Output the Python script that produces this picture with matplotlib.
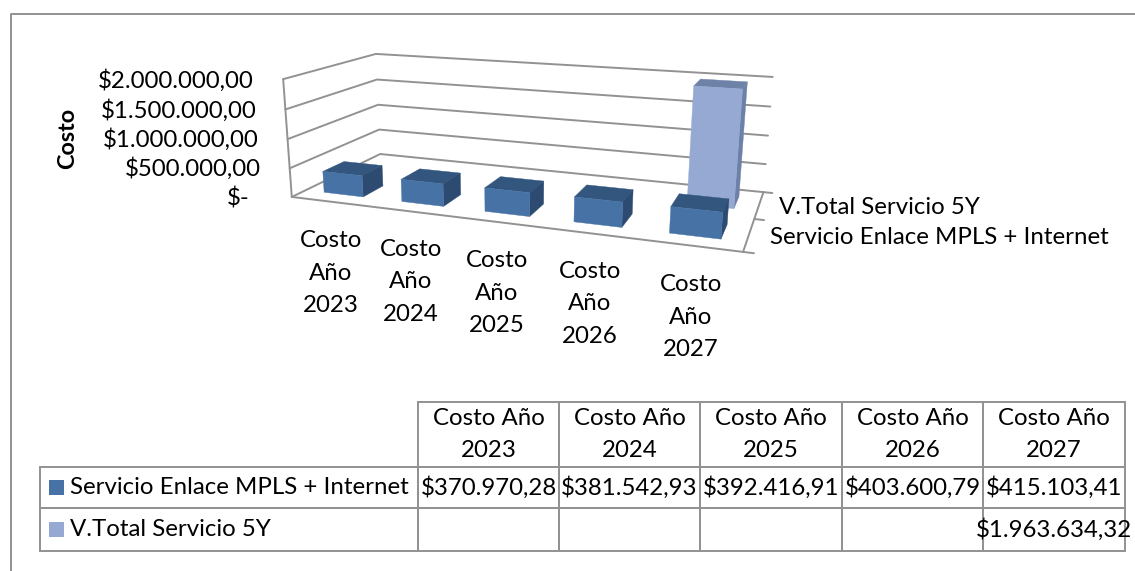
import numpy as np
import matplotlib
matplotlib.use("Agg")
import matplotlib.pyplot as plt
from matplotlib.lines import Line2D
from matplotlib.patches import Rectangle

plt.rcParams["font.family"] = ["Lato", "DejaVu Sans"]

W, H = 1135, 571

# data
years = ["2023", "2024", "2025", "2026", "2027"]
enlace = [370970.28, 381542.93, 392416.91, 403600.79, 415103.41]
total = [None, None, None, None, 1963634.32]
series_names = ["Servicio Enlace MPLS + Internet", "V.Total Servicio 5Y"]
z_ticks = [0, 500000, 1000000, 1500000, 2000000]

GRID = "#929292"
LW = 1.4
BLUE = ["#4672a6", "#33567f", "#2d4a70"]    # front, top, side
LIGHT = ["#95a9d2", "#6e82a8", "#6c80a8"]
FS = 17.3


def money(v):
    if v == 0:
        return "$-"
    return "$" + f"{v:,.2f}".replace(",", "_").replace(".", ",").replace("_", ".")


def fit_camera():
    # frame corners (category, series, cost) -> pixel on the canvas, solved as a DLT
    world = [(0, 0, 0), (0, 2, 0), (0, 0, 2e6), (0, 2, 2e6),
             (5, 0, 0), (5, 2, 0), (5, 2, 2e6)]
    pix = [(292, 197), (380, 154), (283, 79), (376, 54),
           (743, 252), (763.5, 192), (772.7, 77)]
    A, b = [], []
    for (x, y, z), (u, v) in zip(world, pix):
        z = z / 2e6
        v = H - v
        A.append([x, y, z, 1, 0, 0, 0, 0, -u*x, -u*y, -u*z])
        A.append([0, 0, 0, 0, x, y, z, 1, -v*x, -v*y, -v*z])
        b += [u, v]
    p = np.linalg.lstsq(np.array(A, float), np.array(b, float), rcond=None)[0]
    P = np.append(p, 1.0).reshape(3, 4)
    P[:, 2] /= 2e6
    return P


P = fit_camera()

fig = plt.figure(figsize=(W/100, H/100), dpi=100)
bg = fig.add_axes([0, 0, 1, 1])
bg.set_xlim(0, W)
bg.set_ylim(H, 0)
bg.axis("off")

ax = fig.add_axes([0, 0, 1, 1], projection="3d", computed_zorder=False)
ax.set_axis_off()
ax.patch.set_visible(False)


def camera():
    # depth row stays negative, Line3D drops points at or past the camera plane
    R = ax.transData.inverted().get_matrix() @ P
    return np.vstack([R[0], R[1], [0, 1, 0, -3], R[2]])


ax.get_proj = camera


def wire(xs, ys, zs):
    ax.plot(xs, ys, zs, color=GRID, lw=LW, clip_on=False, zorder=1,
            solid_capstyle="round")


# walls and floor
for t in z_ticks:
    wire([0, 0, 5], [0, 2, 2], [t, t, t])
wire([0, 0], [0, 0], [0, 2e6])
wire([0, 5.1], [0, 0], [0, 0])
wire([5, 5], [0, 2], [0, 0])
wire([5, 5.1], [1, 1], [0, 0])
wire([5, 5.1], [2, 2], [0, 0])


def bars(values, depth, cols, zorder):
    # bottom, back and left faces stay hidden from this camera
    bw, bd = 0.51, 0.45
    for i, v in enumerate(values):
        if v is None:
            continue
        faces = ["none", cols[1], cols[0], "none", "none", cols[2]]
        c = ax.bar3d(i + 0.5 - bw/2, depth - bd/2, 0, bw, bd, v, color=faces,
                     edgecolor=faces, linewidth=0.3, shade=False, zorder=zorder)
        c.set_clip_on(False)


bars(total, 1.5, LIGHT, 2)
bars(enlace, 0.5, BLUE, 3)

# axis labels
bg.text(68, 138, "Costo", rotation=90, fontsize=16.8, fontweight="bold",
        ha="center", va="center")
tick_right = [250, 261, 259, 257, 254]
tick_y = [198, 169, 140, 111, 81]
for t, xr, y in zip(z_ticks, tick_right, tick_y):
    bg.text(xr, y, money(t), fontsize=FS, ha="right", va="center")

label_x = [331, 411, 497, 590, 691]
label_y = [273, 282, 293, 304, 317]
for yr, x, y in zip(years, label_x, label_y):
    bg.text(x, y, "Costo\nAño\n" + yr, fontsize=FS, ha="center", va="center",
            linespacing=1.7)

bg.text(779, 207, series_names[1], fontsize=FS, ha="left", va="center")
bg.text(770, 238, series_names[0], fontsize=FS, ha="left", va="center")

# data table
col_px = [40, 418, 559, 700, 842, 983, 1125]
row_px = [402, 467, 508, 551]
widths = [(b - a) / W for a, b in zip(col_px, col_px[1:])]
cells = [[""] + ["Costo Año\n" + y for y in years],
         [series_names[0]] + [money(v) for v in enlace],
         [series_names[1]] + [money(v) if v else "" for v in total]]
tb = bg.table(cellText=cells, colWidths=widths, cellLoc="center",
              bbox=[col_px[0]/W, 1 - row_px[-1]/H, (col_px[-1] - col_px[0])/W,
                    (row_px[-1] - row_px[0])/H])
tb.auto_set_font_size(False)
for (r, c), cell in tb.get_celld().items():
    cell.set_height((row_px[r+1] - row_px[r]) / H)
    cell.set_edgecolor(GRID)
    cell.set_linewidth(LW)
    cell.set_facecolor("none")
    cell.get_text().set_fontsize(FS)
    cell.get_text().set_linespacing(1.65)
    if c == 0:
        cell.get_text().set_ha("left")
        cell.PAD = 0.079
tb[0, 0].set_visible(False)

bg.add_patch(Rectangle((49, 480), 15, 15, color=BLUE[0], lw=0))
bg.add_patch(Rectangle((49, 522), 15, 15, color=LIGHT[0], lw=0))

# chart border, cut by the canvas on the right and bottom
bg.add_line(Line2D([11, 11, W], [H, 14, 14], color=GRID, lw=LW))

fig.savefig("out.png", dpi=100, facecolor="white")
